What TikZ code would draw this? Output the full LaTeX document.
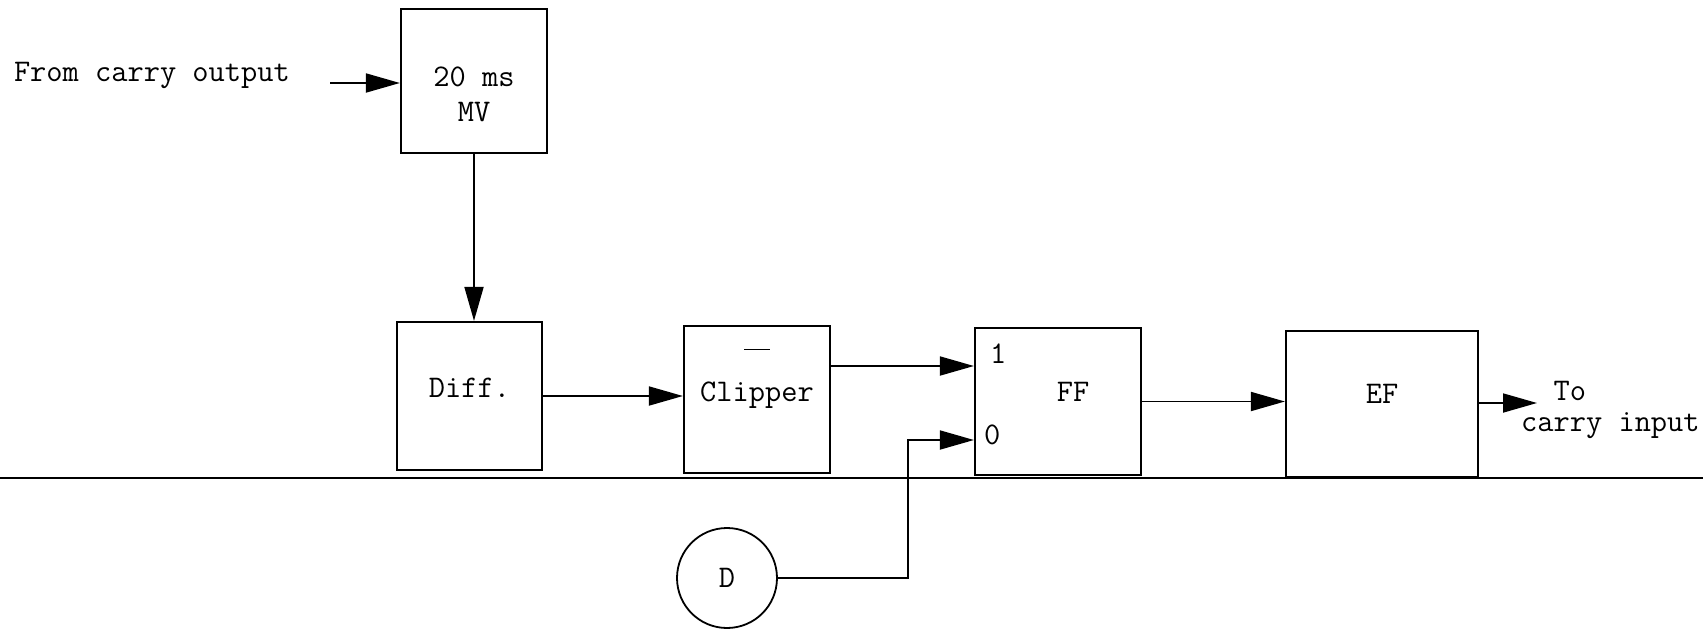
\documentclass[tikz,border=0pt]{standalone}
\usepackage{tikz}
\usetikzlibrary{arrows.meta,calc}

\begin{document}
\begin{tikzpicture}[x=1pt,y=-1pt,>={Triangle[length=34pt,width=19pt]},
    txt/.style={font=\ttfamily\fontsize{31.5}{35}\selectfont},
    box/.style={txt,draw,line width=2.2pt,inner sep=0pt,minimum height=147pt},
    lone/.style={text height=19pt,text depth=16pt},
    wire/.style={line width=1.8pt}]

    \useasboundingbox (0,0) rectangle (1703,629);

    % blocks
    \node[box,minimum width=146pt,minimum height=144pt,
        label={[txt,align=center,yshift=-13pt]center:20 ms\\MV}] (mv) at (474,81) {};
    \node[box,lone,minimum width=145pt,minimum height=148pt] (diff) at (469.5,396) {Diff.};
    \node[box,lone,minimum width=146pt] (clip) at (757,399.5) {Clipper};
    \node[box,lone,minimum width=166pt,text depth=20pt] (ff) at (1058,401.5) {\hspace*{30pt}FF};
    \node[box,lone,minimum width=192pt,minimum height=146pt,text depth=20pt] (ef) at (1382,404) {EF};
    \node[txt,draw,circle,line width=1.8pt,minimum size=100pt,inner sep=0pt] (dd) at (727,578) {D};

    % texts
    \node[txt,anchor=base east,inner sep=0pt] (from) at (290,81) {From carry output};
    \node[txt,anchor=north west,inner sep=0pt,align=left] (to) at (1521,381) {\ \ To\\[-4pt]carry input};

    % bar over Clipper
    \draw[line width=1.8pt] ($(clip.center)+(-13,-50)$) -- ++(26,0);

    % inputs of FF
    \coordinate (ffone) at ($(ff.west)+(0,-35.5)$);
    \coordinate (ffzero) at ($(ff.west)+(0,38.5)$);
    \node[txt,anchor=base west,inner sep=0pt] (one) at ($(ffone)+(16,-3)$) {1};
    \node[txt,anchor=west,inner sep=0pt] (zero) at ($(ffzero)+(10,-5)$) {0};

    % connectors
    \coordinate (fromcarry) at (330,83);
    \coordinate (tocarry) at (1537,403);
    \draw[wire,->] (fromcarry) -- (fromcarry -| mv.west);
    \draw[wire,->] (mv.south) -- (mv.south |- diff.north);
    \draw[wire,->] (diff.east) -- (diff.east -| clip.west);
    \draw[wire,->] (clip.east |- ffone) -- (ffone);
    \draw[wire,->] (dd.east) -| ($(ffzero)+(-66,0)$) -- (ffzero);
    \draw[wire,->] (ff.east) -- (ff.east -| ef.west);
    \draw[wire,->] (ef.east |- tocarry) -- (tocarry);

    % base line
    \draw[line width=1.4pt] (0,478) -- (1703,478);

\end{tikzpicture}
\end{document}
